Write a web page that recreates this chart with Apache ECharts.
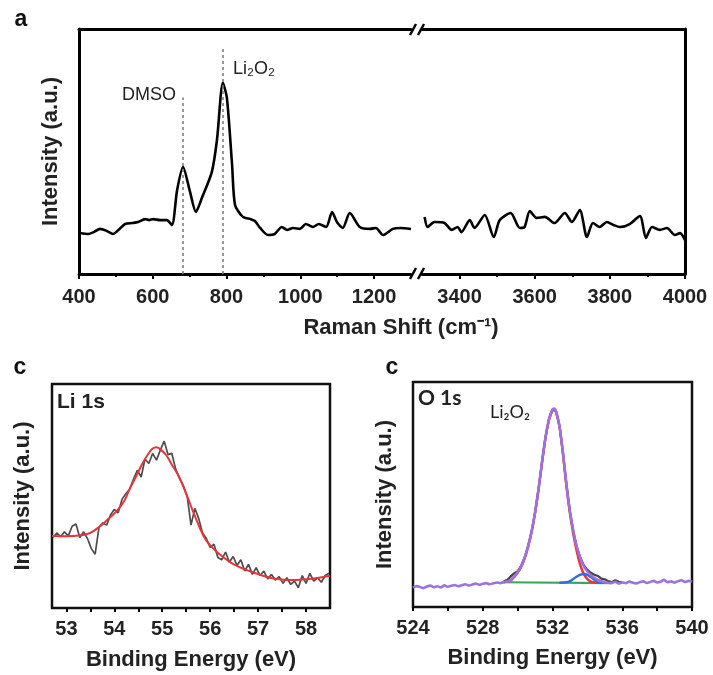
<!DOCTYPE html>
<html>
<head>
<meta charset="utf-8">
<script src="https://cdn.jsdelivr.net/npm/echarts@6.0.0/dist/echarts.min.js"></script>
<style>
  html, body { margin: 0; padding: 0; background: #fff; }
  #chart { width: 713px; height: 675px; }
</style>
</head>
<body>
<div id="chart"></div>
<script>
// ---- panel a: Raman, two segments around the axis break ----
var ramanLeftX = [403, 425, 440, 457, 475, 492, 510, 525, 545, 560, 579, 590, 601, 620, 638, 652, 666, 682, 701, 717,
  733, 760, 774, 790, 801, 815, 823, 844, 865, 877, 891, 912, 930, 950, 964, 980, 999, 1015, 1034, 1050,
  1070, 1086, 1100, 1115, 1134, 1161, 1189, 1205, 1224, 1251, 1270, 1300];
var ramanLeftY = [16.7, 16.3, 17.1, 18.4, 17.6, 16.3, 18.4, 20.4, 20.8, 21.2, 22.4, 22.0, 22.4, 22.0, 22.0, 20.0, 34.3, 43.7, 33.5, 25.3,
  31.0, 41.6, 54.7, 78.0, 71.8, 44.5, 28.2, 23.3, 22.4, 21.6, 18.8, 15.9, 16.3, 19.2, 18.0, 18.8, 18.4, 20.4, 19.2, 20.4,
  19.2, 25.3, 21.0, 18.8, 24.9, 19.2, 18.4, 18.8, 15.9, 18.4, 18.8, 18.4];
var ramanRightX = [3307, 3315, 3333, 3360, 3379, 3395, 3405, 3427, 3440, 3467, 3491, 3507, 3536, 3560, 3573, 3587, 3605, 3627, 3653, 3680,
  3699, 3720, 3739, 3755, 3773, 3792, 3810, 3827, 3853, 3880, 3896, 3912, 3933, 3952, 3973, 3987, 4000];
var ramanRightY = [23.3, 19.2, 21.2, 20.8, 18.0, 19.2, 17.1, 22.0, 18.8, 24.1, 15.1, 22.0, 24.9, 18.8, 19.2, 25.7, 22.9, 23.3, 20.8, 24.9,
  21.2, 26.1, 15.1, 20.8, 19.2, 21.2, 20.0, 19.2, 20.4, 23.7, 14.7, 19.2, 18.0, 18.8, 15.9, 16.7, 13.9];
var ramanLeftTicks = [400, 600, 800, 1000, 1200];
var ramanLeftMinor = [500, 700, 900, 1100];
var ramanRightTicks = [3400, 3600, 3800, 4000];
var ramanRightMinor = [3500, 3700, 3900];
var dmsoShift = 682, dmsoTop = 72;
var li2o2Shift = 789, li2o2Top = 92.7;

// ---- panel c: Li 1s ----
var liRawStart = 52.72, liRawStep = 0.08;
var liRawY = [31.5, 33.5, 31.8, 34.0, 32.2, 36.5, 37.5, 31.5, 34.0, 31.0, 26.5, 24.0, 36.0, 38.0, 37.0, 41.5, 44.0, 42.5, 48.5, 51.0,
  53.0, 57.5, 61.5, 58.5, 66.5, 64.5, 69.0, 66.0, 70.5, 74.5, 68.5, 69.0, 62.0, 58.0, 54.5, 50.0, 37.0, 44.5, 40.0, 33.5,
  31.0, 27.0, 28.5, 22.5, 21.5, 25.0, 20.5, 23.0, 19.0, 21.5, 16.5, 19.5, 15.0, 18.0, 14.5, 16.5, 13.0, 15.0, 12.5, 14.0,
  11.0, 13.5, 10.5, 12.0, 9.0, 14.5, 11.0, 15.5, 12.0, 13.5, 11.5, 14.5, 15.5];
var liFitX = [52.7, 53.0, 53.34, 53.5, 53.69, 53.85, 54.04, 54.2, 54.31, 54.45, 54.59, 54.7, 54.8, 54.88, 54.95, 55.08, 55.2, 55.35, 55.5, 55.63,
  55.77, 55.91, 56.1, 56.26, 56.43, 56.6, 56.78, 56.95, 57.1, 57.3, 57.45, 57.58, 57.8, 57.99, 58.2, 58.5];
var liFitY = [32.1, 32.0, 32.6, 33.5, 36.3, 39.3, 43.0, 47.5, 52.7, 58.6, 64.6, 68.5, 71.2, 71.8, 71.0, 68.3, 64.0, 58.6, 51.0, 43.8,
  36.5, 30.4, 25.8, 22.9, 20.3, 18.4, 16.8, 15.5, 14.4, 13.3, 12.8, 12.5, 12.5, 12.8, 13.3, 14.4];
var liLabelTicks = [53, 54, 55, 56, 57, 58];
var liAllTicks = [53, 53.5, 54, 54.5, 55, 55.5, 56, 56.5, 57, 57.5, 58];

// ---- panel c: O 1s ----
var oBaseLeftStart = 524, oBaseRightStart = 535.4, oBaseStep = 0.2;
var oBaseLeft = [8.6, 9.3, 8.9, 8.4, 9.1, 9.5, 8.8, 9.2, 8.7, 9.6, 9.0, 9.4, 9.8, 9.2, 9.7, 10.1, 9.5, 10.0, 10.4, 9.9,
  10.3, 10.6, 10.1, 10.5, 10.9, 10.6, 11.0, 11.3];
var oPeakX = [529.6, 529.8, 530.0, 530.2, 530.4, 530.6, 530.8, 531.0, 531.2, 531.4, 531.6, 531.8, 532.0, 532.1, 532.2, 532.4, 532.6, 532.8, 533.0, 533.2,
  533.4, 533.6, 533.8, 534.0, 534.2, 534.4, 534.6, 534.8, 535.0, 535.2];
var oPeakY = [12.0, 13.6, 15.5, 18.0, 21.8, 27.0, 33.5, 42.0, 52.5, 64.5, 75.5, 83.5, 87.8, 88.2, 87.0, 80.5, 68.5, 54.5, 42.5, 33.5,
  26.5, 21.5, 18.0, 15.8, 14.2, 13.0, 12.0, 11.4, 11.0, 10.8];
var oBaseRight = [10.7, 11.2, 10.4, 10.9, 10.6, 11.3, 10.8, 10.5, 11.0, 11.4, 10.7, 11.1, 11.6, 10.9, 11.2, 12.1, 11.0, 11.4, 10.8, 11.5,
  11.9, 11.1, 11.6, 11.3];
var oRawStart = 529.2;
var oRawY = [11.4, 12.0, 13.6, 15.0, 15.8, 18.3, 22.0, 27.0, 33.5, 42.0, 52.5, 64.5, 75.5, 83.5, 87.8, 87.0, 80.5, 68.5, 54.5, 42.5,
  33.5, 26.5, 21.8, 18.5, 16.5, 15.2, 14.3, 13.8, 12.6, 12.3, 11.5, 11.0, 11.9, 11.2, 11.0];
var oRedX = [529.2, 529.6, 529.8, 530.0, 530.2, 530.4, 530.6, 530.8, 531.0, 531.2, 531.4, 531.6, 531.8, 532.0, 532.1, 532.2, 532.4, 532.6, 532.8, 533.0,
  533.2, 533.4, 533.6, 533.8, 534.0, 534.2, 534.4, 534.8];
var oRedY = [11.0, 11.8, 13.3, 15.2, 17.7, 21.5, 26.7, 33.2, 41.7, 52.2, 64.2, 75.2, 83.2, 87.5, 87.9, 86.7, 80.2, 68.0, 53.5, 41.5,
  32.0, 24.5, 18.5, 14.6, 12.4, 11.3, 10.9, 10.7];
var oBlueX = [532.4, 532.8, 533.0, 533.2, 533.4, 533.6, 533.8, 534.0, 534.2, 534.4, 534.6, 534.8, 535.0];
var oBlueY = [10.8, 11.0, 11.5, 12.5, 13.6, 14.4, 14.7, 14.3, 13.3, 12.1, 11.2, 10.8, 10.7];
var oGreenX = [529.1, 535.4];
var oGreenY = [11.0, 10.6];

var chart = echarts.init(document.getElementById('chart'));

function zip(xs, ys) {
  return xs.map(function (x, i) { return [x, ys[i]]; });
}
function stepped(start, step, ys) {
  return ys.map(function (y, i) { return [+(start + i * step).toFixed(3), y]; });
}
function plain(v) { return String(v); }

var FONT = '"Liberation Sans", Arial, sans-serif';
var HUMAN = 'Lato, "Open Sans", sans-serif';
var labelStyle = { fontFamily: FONT, fontWeight: 'bold', fontSize: 20, color: '#222', formatter: plain };
var nameStyle = { fontFamily: FONT, fontWeight: 'bold', fontSize: 22, color: '#222' };
var blackLine = { color: '#000', width: 2 };

function topX(grid, min, max, ticks) {
  return {
    gridIndex: grid, type: 'value', min: min, max: max, position: 'bottom',
    axisLine: { onZero: false, lineStyle: { color: '#000', width: 3 } },
    axisTick: { customValues: ticks, length: 5, lineStyle: blackLine },
    axisLabel: Object.assign({ customValues: ticks, margin: 13 }, labelStyle),
    splitLine: { show: false }
  };
}
function minorX(grid, min, max, ticks) {
  return {
    gridIndex: grid, type: 'value', min: min, max: max, position: 'bottom',
    axisLine: { show: false, onZero: false },
    axisTick: { customValues: ticks, length: 3, lineStyle: blackLine },
    axisLabel: { show: false }, splitLine: { show: false }
  };
}
function lineOnly(grid, min, max, pos) {
  return {
    gridIndex: grid, type: 'value', min: min, max: max, position: pos,
    axisLine: { show: true, onZero: false, lineStyle: { color: '#000', width: 3 } },
    axisTick: { show: false }, axisLabel: { show: false }, splitLine: { show: false }
  };
}

var purple = stepped(oBaseLeftStart, oBaseStep, oBaseLeft)
  .concat(zip(oPeakX, oPeakY))
  .concat(stepped(oBaseRightStart, oBaseStep, oBaseRight));

var option = {
  animation: false,
  backgroundColor: '#fff',
  grid: [
    { left: 79, top: 29, width: 332, height: 245 },
    { left: 422, top: 29, width: 263, height: 245 },
    { left: 52, top: 384, width: 278, height: 224, show: true, borderColor: '#111', borderWidth: 2.5, backgroundColor: 'transparent' },
    { left: 413, top: 382, width: 279, height: 225, show: true, borderColor: '#111', borderWidth: 2.5, backgroundColor: 'transparent' }
  ],
  xAxis: [
    topX(0, 400, 1300, ramanLeftTicks),
    minorX(0, 400, 1300, ramanLeftMinor),
    lineOnly(0, 400, 1300, 'top'),
    topX(1, 3300, 4000, ramanRightTicks),
    minorX(1, 3300, 4000, ramanRightMinor),
    lineOnly(1, 3300, 4000, 'top'),
    {
      gridIndex: 2, type: 'value', min: 52.7, max: 58.5,
      axisLine: { show: false, onZero: false },
      axisTick: { customValues: liAllTicks, length: 4, lineStyle: blackLine },
      axisLabel: Object.assign({ customValues: liLabelTicks, margin: 11 }, labelStyle),
      splitLine: { show: false },
      name: 'Binding Energy (eV)', nameLocation: 'middle', nameGap: 41, nameTextStyle: nameStyle
    },
    {
      gridIndex: 3, type: 'value', min: 524, max: 540, interval: 4,
      axisLine: { show: false, onZero: false },
      axisTick: { length: 4, lineStyle: blackLine },
      minorTick: { show: true, splitNumber: 2, length: 4, lineStyle: blackLine },
      axisLabel: Object.assign({ margin: 11 }, labelStyle),
      splitLine: { show: false },
      name: 'Binding Energy (eV)', nameLocation: 'middle', nameGap: 40, nameTextStyle: nameStyle
    }
  ],
  yAxis: [
    {
      gridIndex: 0, type: 'value', min: 0, max: 100, position: 'left',
      axisLine: { show: true, onZero: false, lineStyle: { color: '#000', width: 3 } },
      axisTick: { show: false }, axisLabel: { show: false }, splitLine: { show: false },
      name: 'Intensity (a.u.)', nameLocation: 'middle', nameGap: 17, nameTextStyle: nameStyle
    },
    lineOnly(1, 0, 100, 'right'),
    {
      gridIndex: 2, type: 'value', min: 0, max: 100,
      axisLine: { show: false }, axisTick: { show: false }, axisLabel: { show: false }, splitLine: { show: false },
      name: 'Intensity (a.u.)', nameLocation: 'middle', nameGap: 18, nameTextStyle: nameStyle
    },
    {
      gridIndex: 3, type: 'value', min: 0, max: 100,
      axisLine: { show: false }, axisTick: { show: false }, axisLabel: { show: false }, splitLine: { show: false },
      name: 'Intensity (a.u.)', nameLocation: 'middle', nameGap: 17, nameTextStyle: nameStyle
    }
  ],
  series: [
    {
      type: 'line', xAxisIndex: 0, yAxisIndex: 0, data: zip(ramanLeftX, ramanLeftY),
      showSymbol: false, smooth: 0.25, lineStyle: { color: '#000', width: 2.6 },
      markLine: {
        silent: true, symbol: ['none', 'none'], label: { show: false },
        lineStyle: { color: '#777', type: [3, 3], width: 1.5 },
        data: [
          [{ coord: [dmsoShift, 0] }, { coord: [dmsoShift, dmsoTop] }],
          [{ coord: [li2o2Shift, 0] }, { coord: [li2o2Shift, li2o2Top] }]
        ]
      },
      z: 3
    },
    {
      type: 'line', xAxisIndex: 3, yAxisIndex: 1, data: zip(ramanRightX, ramanRightY),
      showSymbol: false, smooth: 0.25, lineStyle: { color: '#000', width: 2.6 }
    },
    {
      type: 'line', xAxisIndex: 6, yAxisIndex: 2, data: stepped(liRawStart, liRawStep, liRawY),
      showSymbol: false, lineStyle: { color: '#4d4d4d', width: 1.7 }
    },
    {
      type: 'line', xAxisIndex: 6, yAxisIndex: 2, data: zip(liFitX, liFitY),
      showSymbol: false, smooth: 0.4, lineStyle: { color: '#e5343b', width: 2 }
    },
    {
      type: 'line', xAxisIndex: 7, yAxisIndex: 3, data: stepped(oRawStart, oBaseStep, oRawY),
      showSymbol: false, lineStyle: { color: '#444', width: 2.2 }
    },
    {
      type: 'line', xAxisIndex: 7, yAxisIndex: 3, data: zip(oGreenX, oGreenY),
      showSymbol: false, lineStyle: { color: '#3aa55c', width: 2.2 }
    },
    {
      type: 'line', xAxisIndex: 7, yAxisIndex: 3, data: zip(oRedX, oRedY),
      showSymbol: false, smooth: 0.3, lineStyle: { color: '#e8333a', width: 2.4 }
    },
    {
      type: 'line', xAxisIndex: 7, yAxisIndex: 3, data: zip(oBlueX, oBlueY),
      showSymbol: false, smooth: 0.3, lineStyle: { color: '#2f6fd6', width: 2.4 }
    },
    {
      type: 'line', xAxisIndex: 7, yAxisIndex: 3, data: purple,
      showSymbol: false, smooth: 0.2, lineStyle: { color: '#9d72de', width: 2.6 }
    }
  ],
  graphic: [
    { type: 'text', x: 21, y: 20, style: { text: 'a', fontFamily: FONT, fontWeight: 'bold', fontSize: 23, fill: '#111', align: 'center', verticalAlign: 'middle' } },
    { type: 'text', x: 20, y: 368, style: { text: 'c', fontFamily: FONT, fontWeight: 'bold', fontSize: 23, fill: '#111', align: 'center', verticalAlign: 'middle' } },
    { type: 'text', x: 392, y: 368, style: { text: 'c', fontFamily: FONT, fontWeight: 'bold', fontSize: 23, fill: '#111', align: 'center', verticalAlign: 'middle' } },
    { type: 'text', x: 176, y: 95, style: { text: 'DMSO', fontFamily: FONT, fontSize: 18, fill: '#222', align: 'right', verticalAlign: 'middle' } },
    { type: 'text', x: 233, y: 69, style: { text: 'Li₂O₂', fontFamily: FONT, fontSize: 18, fill: '#222', align: 'left', verticalAlign: 'middle' } },
    { type: 'text', x: 401, y: 328, style: { text: 'Raman Shift (cm⁻¹)', fontFamily: FONT, fontWeight: 'bold', fontSize: 22, fill: '#222', align: 'center', verticalAlign: 'middle' } },
    { type: 'text', x: 57, y: 402, style: { text: 'Li 1s', fontFamily: FONT, fontWeight: 'bold', fontSize: 21, fill: '#222', align: 'left', verticalAlign: 'middle' } },
    { type: 'text', x: 418, y: 398, style: { text: 'O 1s', fontFamily: HUMAN, fontWeight: 'bold', fontSize: 21, fill: '#222', align: 'left', verticalAlign: 'middle' } },
    { type: 'text', x: 490, y: 412, style: { text: 'Li₂O₂', fontFamily: HUMAN, fontSize: 18, fill: '#222', align: 'left', verticalAlign: 'middle' } },
    // axis break marks
    { type: 'line', shape: { x1: 410, y1: 35, x2: 416, y2: 24 }, style: { stroke: '#000', lineWidth: 2.5 } },
    { type: 'line', shape: { x1: 418, y1: 35, x2: 424, y2: 24 }, style: { stroke: '#000', lineWidth: 2.5 } },
    { type: 'line', shape: { x1: 410, y1: 279, x2: 416, y2: 268 }, style: { stroke: '#000', lineWidth: 2.5 } },
    { type: 'line', shape: { x1: 418, y1: 279, x2: 424, y2: 268 }, style: { stroke: '#000', lineWidth: 2.5 } }
  ]
};

chart.setOption(option);
</script>
</body>
</html>
